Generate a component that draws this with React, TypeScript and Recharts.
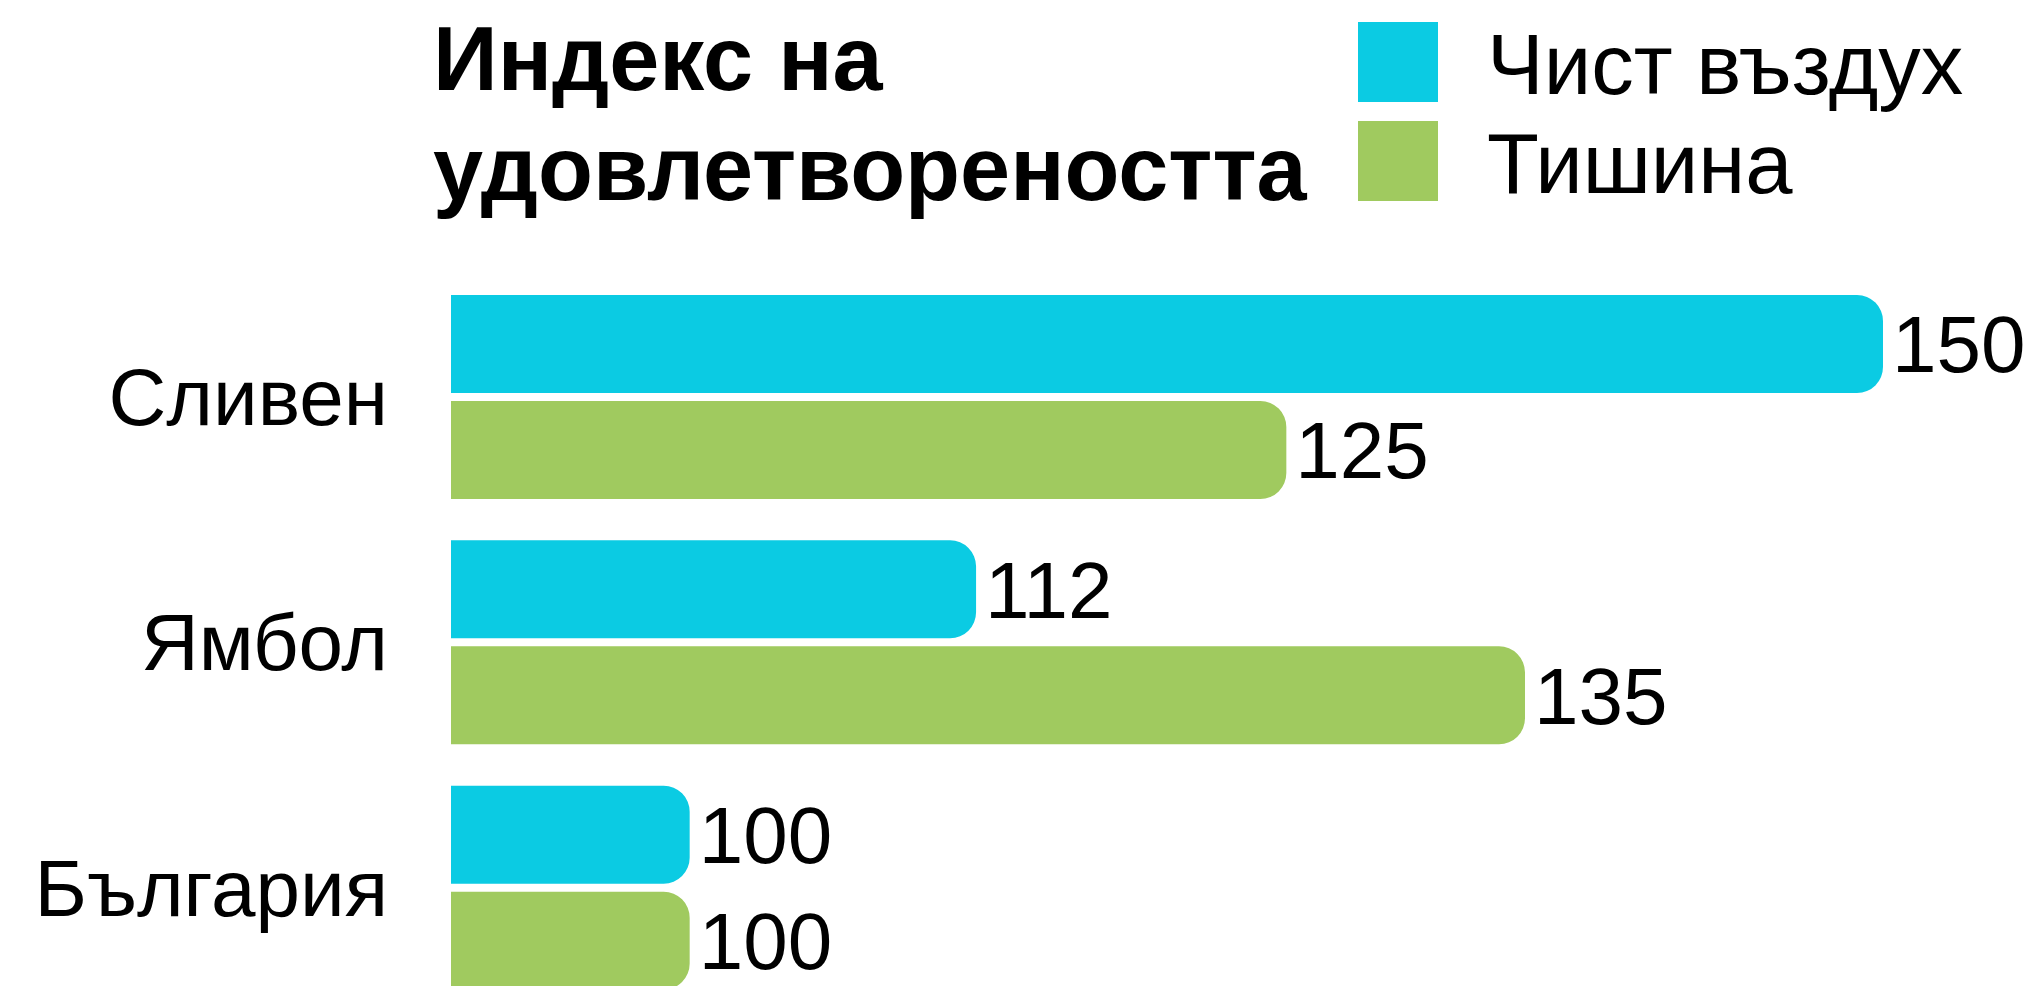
import { BarChart, Bar, XAxis, YAxis, Legend, LabelList } from 'recharts'

const cities = ['Сливен', 'Ямбол', 'България']
const cleanAir = [150, 112, 100]
const silence = [125, 135, 100]
const seriesNames = ['Чист въздух', 'Тишина']
const titleLines = ['Индекс на', 'удовлетвореността']

const data = cities.map((name, i) => ({ name, air: cleanAir[i], quiet: silence[i] }))

const FONT = '"Liberation Sans", Arial, Helvetica, sans-serif'
const CYAN = '#0BCBE3'
const GREEN = '#A0CA5F'

function LegendBox({ payload }: any) {
  const items = [...(payload || [])].sort(
    (a: any, b: any) => seriesNames.indexOf(a.value) - seriesNames.indexOf(b.value)
  )
  return (
    <div style={{ fontFamily: FONT }}>
      {items.map((p: any) => (
        <div key={p.value} style={{ display: 'flex', alignItems: 'flex-start', height: 80, marginBottom: 19 }}>
          <div style={{ width: 80, height: 80, background: p.color }} />
          <span style={{ marginLeft: 49, fontSize: 85, lineHeight: '80px', paddingTop: 3, color: '#000', whiteSpace: 'nowrap' }}>
            {p.value}
          </span>
        </div>
      ))}
    </div>
  )
}

export default function App() {
  return (
    <div style={{ position: 'absolute', left: 0, top: 0, width: 2039, height: 986, overflow: 'hidden', background: '#fff' }}>
      <div
        style={{
          position: 'absolute',
          left: 433,
          top: 4,
          fontFamily: FONT,
          fontWeight: 700,
          fontSize: 90,
          lineHeight: '110px',
          color: '#000',
          zIndex: 2,
        }}
      >
        {titleLines.map((t) => (
          <div key={t}>{t}</div>
        ))}
      </div>
      <BarChart
        width={2039}
        height={1010}
        data={data}
        layout="vertical"
        margin={{ top: 274, right: 156, bottom: 0, left: 0 }}
        barSize={98}
        barGap={8}
      >
        <XAxis type="number" domain={[90, 150]} hide />
        <YAxis
          type="category"
          dataKey="name"
          width={451}
          axisLine={false}
          tickLine={false}
          tickSize={0}
          tickMargin={63}
          tick={{ fontSize: 80, fill: '#000', fontFamily: FONT }}
        />
        <Legend
          layout="vertical"
          align="center"
          verticalAlign="middle"
          itemSorter={null}
          content={<LegendBox />}
          wrapperStyle={{ left: 1358, top: 22, width: 'auto', height: 'auto' }}
        />
        <Bar dataKey="air" name={seriesNames[0]} fill={CYAN} radius={[0, 26, 26, 0]} isAnimationActive={false}>
          <LabelList dataKey="air" position="right" offset={9} fill="#000" fontSize={80} fontFamily={FONT} />
        </Bar>
        <Bar dataKey="quiet" name={seriesNames[1]} fill={GREEN} radius={[0, 26, 26, 0]} isAnimationActive={false}>
          <LabelList dataKey="quiet" position="right" offset={9} fill="#000" fontSize={80} fontFamily={FONT} />
        </Bar>
      </BarChart>
    </div>
  )
}
